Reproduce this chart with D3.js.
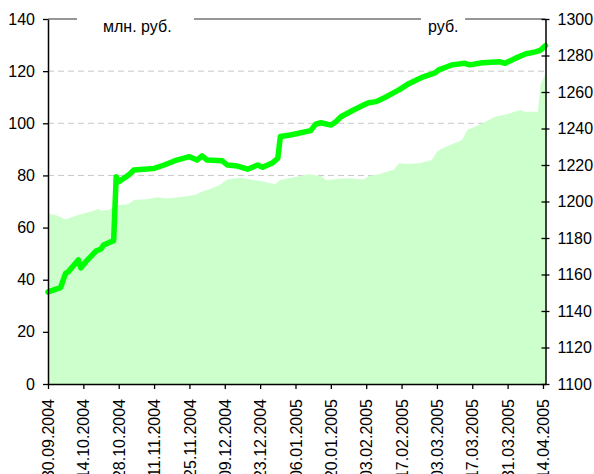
<!DOCTYPE html>
<html>
<head>
<meta charset="utf-8">
<script src="https://cdn.jsdelivr.net/npm/d3@7"></script>
<style>
    body { margin: 0; background: #fff; }
    svg { display: block; font-family: "Liberation Sans", Arial, sans-serif; }
</style>
</head>
<body>
<div id="chart"></div>
<script>
// млн. руб. (left axis)
let lineDates = ["30.09.2004","05.10.2004","07.10.2004","08.10.2004","12.10.2004","13.10.2004","15.10.2004","19.10.2004",
    "21.10.2004","22.10.2004","26.10.2004","27.10.2004","28.10.2004","01.11.2004","03.11.2004","07.11.2004","11.11.2004",
    "15.11.2004","20.11.2004","25.11.2004","28.11.2004","30.11.2004","02.12.2004","08.12.2004","10.12.2004","14.12.2004",
    "18.12.2004","22.12.2004","24.12.2004","28.12.2004","30.12.2004","31.12.2004","04.01.2005","12.01.2005","14.01.2005",
    "16.01.2005","20.01.2005","22.01.2005","24.01.2005","29.01.2005","02.02.2005","04.02.2005","07.02.2005","11.02.2005",
    "16.02.2005","20.02.2005","25.02.2005","02.03.2005","04.03.2005","07.03.2005","09.03.2005","14.03.2005","16.03.2005",
    "21.03.2005","28.03.2005","30.03.2005","03.04.2005","07.04.2005","11.04.2005","13.04.2005","15.04.2005"];
let lineValues = [35.3, 37.0, 42.5, 43.0, 47.6, 44.5, 46.9, 51.0,
    51.8, 53.3, 55.0, 79.5, 77.6, 80.2, 82.1, 82.4, 82.7,
    84.0, 85.9, 87.2, 85.9, 87.5, 85.9, 85.6, 84.0, 83.6,
    82.4, 84.0, 83.1, 84.9, 86.6, 94.9, 95.5, 97.2, 99.7,
    100.2, 99.3, 100.6, 102.5, 105.1, 107.0, 107.9, 108.3, 110.2,
    112.8, 115.3, 117.6, 119.2, 120.6, 121.7, 122.4, 123.0, 122.4,
    123.2, 123.6, 123.0, 124.9, 126.6, 127.4, 128.0, 129.8];

// руб. (right axis)
let areaDates = ["30.09.2004","03.10.2004","07.10.2004","09.10.2004","12.10.2004","15.10.2004","17.10.2004","20.10.2004",
    "21.10.2004","24.10.2004","27.10.2004","01.11.2004","03.11.2004","08.11.2004","12.11.2004","16.11.2004","21.11.2004",
    "27.11.2004","01.12.2004","04.12.2004","07.12.2004","10.12.2004","15.12.2004","19.12.2004","23.12.2004","27.12.2004",
    "29.12.2004","31.12.2004","05.01.2005","11.01.2005","16.01.2005","18.01.2005","26.01.2005","02.02.2005","04.02.2005",
    "08.02.2005","14.02.2005","16.02.2005","19.02.2005","24.02.2005","01.03.2005","03.03.2005","05.03.2005","13.03.2005",
    "15.03.2005","21.03.2005","26.03.2005","01.04.2005","05.04.2005","07.04.2005","12.04.2005","13.04.2005","15.04.2005"];
let areaValues = [1193.3, 1192.6, 1190.2, 1191.3, 1192.6, 1193.8, 1194.4, 1196.0,
    1195.0, 1195.3, 1197.8, 1198.6, 1200.8, 1201.3, 1202.3, 1201.7, 1202.3,
    1203.6, 1205.9, 1207.2, 1209.0, 1212.1, 1213.0, 1212.1, 1211.2, 1210.0,
    1209.6, 1211.8, 1213.2, 1215.0, 1214.0, 1211.8, 1212.7, 1212.1, 1214.0,
    1215.0, 1217.6, 1220.9, 1220.5, 1220.9, 1222.7, 1227.3, 1229.1, 1233.7,
    1239.2, 1242.8, 1246.5, 1248.3, 1250.1, 1249.2, 1249.2, 1263.8, 1270.2];

let tickLabels = ["30.09.2004","14.10.2004","28.10.2004","11.11.2004","25.11.2004","09.12.2004","23.12.2004",
    "06.01.2005","20.01.2005","03.02.2005","17.02.2005","03.03.2005","17.03.2005","31.03.2005","14.04.2005"];
let leftTicks = [0, 20, 40, 60, 80, 100, 120, 140];
let rightTicks = [1100, 1120, 1140, 1160, 1180, 1200, 1220, 1240, 1260, 1280, 1300];
let gridValues = [20, 40, 60, 80, 100, 120];

let width = 594, height = 474;
let plotLeft = 48, plotRight = 545.5, plotTop = 19, plotBottom = 384;

let parse = d3.utcParse("%d.%m.%Y");

let x = d3.scaleUtc()
    .domain([parse("30.09.2004"), parse("15.04.2005")])
    .range([plotLeft, plotRight]);
let yLeft = d3.scaleLinear().domain([0, 140]).range([plotBottom, plotTop]);
let yRight = d3.scaleLinear().domain([1100, 1300]).range([plotBottom, plotTop]);

let lineData = lineDates.map((d, i) => ({date: parse(d), value: lineValues[i]}));
let areaData = areaDates.map((d, i) => ({date: parse(d), value: areaValues[i]}));

let svg = d3.select("#chart").append("svg")
    .attr("width", width)
    .attr("height", height);

svg.append("rect").attr("width", width).attr("height", height).attr("fill", "#fff");

// dashed grid (behind the area)
svg.append("g")
    .selectAll("line")
    .data(gridValues)
    .join("line")
    .attr("x1", plotLeft).attr("x2", plotRight)
    .attr("y1", d => yLeft(d)).attr("y2", d => yLeft(d))
    .attr("stroke", "#c8c8c8")
    .attr("stroke-dasharray", "6,4");

// area
svg.append("path")
    .datum(areaData)
    .attr("fill", "#ccffcc")
    .attr("d", d3.area()
        .x(d => x(d.date))
        .y0(yRight(1100))
        .y1(d => yRight(d.value)));

// top border line with labels
svg.append("line")
    .attr("x1", plotLeft).attr("x2", plotRight)
    .attr("y1", yLeft(140)).attr("y2", yLeft(140))
    .attr("stroke", "#969696")
    .attr("stroke-width", 2);

svg.append("rect").attr("x", 77).attr("y", 12).attr("width", 117).attr("height", 24).attr("fill", "#fff");
svg.append("rect").attr("x", 421).attr("y", 12).attr("width", 44).attr("height", 24).attr("fill", "#fff");
svg.append("text").attr("x", 103).attr("y", 31.5).attr("font-size", 16).attr("fill", "#000").text("млн. руб.");
svg.append("text").attr("x", 428).attr("y", 31.5).attr("font-size", 16).attr("fill", "#000").text("руб.");

// line
svg.append("path")
    .datum(lineData)
    .attr("fill", "none")
    .attr("stroke", "#00ff00")
    .attr("stroke-width", 5.5)
    .attr("stroke-linejoin", "round")
    .attr("stroke-linecap", "round")
    .attr("d", d3.line()
        .x(d => x(d.date))
        .y(d => yLeft(d.value)));

// axes
let leftAxis = svg.append("g")
    .attr("transform", "translate(" + plotLeft + ",0)")
    .call(d3.axisLeft(yLeft).tickValues(leftTicks).tickFormat(d3.format("d")).tickSize(5).tickPadding(8).tickSizeOuter(0));

let rightAxis = svg.append("g")
    .attr("transform", "translate(" + plotRight + ",0)")
    .call(d3.axisRight(yRight).tickValues(rightTicks).tickFormat(d3.format("d")).tickSize(4).tickPadding(8).tickSizeOuter(0));
rightAxis.selectAll(".tick line").attr("x1", -4);

let xAxis = svg.append("g")
    .attr("transform", "translate(0," + plotBottom + ")")
    .call(d3.axisBottom(x).tickValues(tickLabels.map(parse)).tickFormat(d3.utcFormat("%d.%m.%Y")).tickSize(5).tickSizeOuter(0));

xAxis.selectAll(".tick text")
    .attr("transform", "rotate(-90)")
    .attr("text-anchor", "end")
    .attr("x", -15)
    .attr("y", 0)
    .attr("dy", "0.35em");

[leftAxis, rightAxis, xAxis].forEach(g => {
    g.attr("font-size", 16).attr("font-family", null);
    g.select(".domain").attr("stroke", "#000").attr("stroke-width", 1.5);
    g.selectAll(".tick line").attr("stroke", "#000").attr("stroke-width", 1.3);
    g.selectAll(".tick text").attr("fill", "#000");
});
</script>
</body>
</html>
